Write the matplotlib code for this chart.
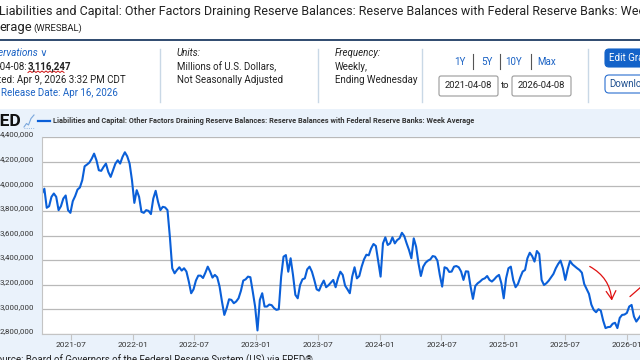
import numpy as np
import pandas as pd
import matplotlib
matplotlib.use("Agg")
import matplotlib.pyplot as plt
import matplotlib.dates as mdates
import matplotlib.ticker as ticker
from matplotlib.transforms import Affine2D, ScaledTranslation
from matplotlib.patches import Rectangle, FancyBboxPatch
from matplotlib.lines import Line2D

plt.rcParams['font.family'] = ['Roboto', 'DejaVu Sans']

# WRESBAL, weekly (Wednesday), billions of dollars
start_date = "2021-04-07"
end_date = "2026-04-08"
reserves_bn = [
    3941, 3980, 3825, 3838, 3914, 3941, 3914, 3806, 3838, 3900,
    3925, 3806, 3784, 3879, 3920, 3973, 3990, 4049, 4162, 4176,
    4192, 4224, 4265, 4211, 4130, 4125, 4157, 4184, 4116, 4076,
    4130, 4184, 4211, 4184, 4238, 4276, 4243, 4184, 4049, 3865,
    3968, 3914, 3792, 3784, 3806, 3800, 3774, 3900, 3963, 3874,
    3806, 3833, 3828, 3806, 3590, 3334, 3293, 3320, 3342, 3315,
    3334, 3307, 3226, 3131, 3163, 3234, 3274, 3274, 3255, 3298,
    3347, 3307, 3258, 3280, 3261, 3185, 3064, 2955, 3010, 3082,
    3077, 3050, 3064, 3090, 3150, 3234, 3244, 3266, 3261, 3145,
    3023, 2829, 3077, 3131, 3023, 3023, 3039, 3034, 3010, 2996,
    3001, 3266, 3428, 3441, 3306, 3415, 3280, 3118, 3090, 3198,
    3244, 3252, 3325, 3347, 3306, 3239, 3163, 3152, 3198, 3234,
    3180, 3196, 3217, 3239, 3180, 3252, 3306, 3280, 3193, 3163,
    3131, 3266, 3342, 3252, 3271, 3347, 3406, 3444, 3439, 3495,
    3531, 3515, 3388, 3266, 3536, 3585, 3523, 3536, 3585, 3536,
    3563, 3577, 3622, 3595, 3536, 3482, 3415, 3577, 3509, 3374,
    3271, 3347, 3379, 3396, 3406, 3433, 3428, 3396, 3280, 3185,
    3342, 3334, 3304, 3307, 3347, 3352, 3342, 3307, 3239, 3309,
    3307, 3185, 3085, 3190, 3212, 3226, 3244, 3252, 3271, 3239,
    3226, 3244, 3266, 3280, 3212, 3090, 3252, 3334, 3347, 3239,
    3180, 3206, 3260, 3307, 3320, 3415, 3460, 3433, 3388, 3474,
    3450, 3239, 3198, 3212, 3233, 3260, 3288, 3334, 3369, 3396,
    3334, 3239, 3325, 3393, 3366, 3350, 3334, 3320, 3298, 3206,
    3166, 3126, 3039, 2996, 2977, 3001, 2990, 2909, 2848, 2856,
    2858, 2883, 2891, 2848, 2931, 2955, 2958, 2971, 3023, 3036,
    2942, 2901, 2928, 2955,
]
dates = pd.date_range(start_date, periods=len(reserves_bn), freq="W-WED")
values = np.array(reserves_bn) * 1000  # millions of dollars

y_ticks = [2800000, 3000000, 3200000, 3400000, 3600000, 3800000, 4000000, 4200000, 4400000]
x_ticks = ["2021-07", "2022-01", "2022-07", "2023-01", "2023-07", "2024-01",
           "2024-07", "2025-01", "2025-07", "2026-01"]

title = ("Liabilities and Capital: Other Factors Draining Reserve Balances: "
         "Reserve Balances with Federal Reserve Banks: Week Average")

W, H = 640, 360
fig = plt.figure(figsize=(6.4, 3.6), dpi=100)
fig.patch.set_facecolor("white")
pix = Affine2D().scale(1 / W, -1 / H).translate(0, 1) + fig.transFigure

dark = "#222222"
link = "#1a62c4"

def txt(x, y, s, **kw):
    kw.setdefault("va", "center")
    kw.setdefault("color", dark)
    return fig.text(x, y, s, transform=pix, **kw)

# page header
txt(-1, 11, title, fontsize=9.0)
txt(-0.5, 27, "erage", fontsize=9.4)
txt(33, 28.5, "(WRESBAL)", fontsize=6.8)
fig.add_artist(Line2D([0, W], [40, 40], color="#1f3b63", lw=1.3, transform=pix))

for xs in [160, 318, 422, 588]:
    fig.add_artist(Line2D([xs, xs], [49, 102], color="#c9d8e6", lw=1, transform=pix))

# observations block
txt(-2, 53, "ervations \u2228", fontsize=7.2, color=link, style="italic")
txt(-2, 67, "-04-08:", fontsize=7)
txt(28, 67, "3,116,247", fontsize=7, weight="bold")
zx = np.arange(28, 66, 2)
zy = np.where(np.arange(len(zx)) % 2 == 0, 72.5, 71.0)
fig.add_artist(Line2D(zx, zy, color="#d01010", lw=0.7, transform=pix))
txt(-2, 80, "ted: Apr 9, 2026 3:32 PM CDT", fontsize=7)
txt(1, 93, "Release Date: Apr 16, 2026", fontsize=7, color=link)

txt(177, 53, "Units:", fontsize=7, style="italic")
txt(177, 67, "Millions of U.S. Dollars,", fontsize=7)
txt(177, 80, "Not Seasonally Adjusted", fontsize=7)

txt(335, 53, "Frequency:", fontsize=7, style="italic")
txt(335, 67, "Weekly,", fontsize=7)
txt(335, 80, "Ending Wednesday", fontsize=7)

for lab, xc in zip(["1Y", "5Y", "10Y", "Max"], [460, 487, 514, 547]):
    txt(xc, 62, lab, fontsize=7, color=link, ha="center")
for xs in [473, 500, 531]:
    fig.add_artist(Line2D([xs, xs], [54, 69], color="#555555", lw=0.8, transform=pix))
for x0, lab in [(439, "2021-04-08"), (512, "2026-04-08")]:
    fig.add_artist(FancyBboxPatch((x0, 76), 59, 20, boxstyle="round,pad=0,rounding_size=2",
                                  fc="white", ec="#9a9a9a", lw=0.8, transform=pix))
    txt(x0 + 29.5, 86, lab, fontsize=6.8, ha="center")
txt(505, 86, "to", fontsize=6.8, ha="center")

fig.add_artist(FancyBboxPatch((605, 49), 60, 18, boxstyle="round,pad=0,rounding_size=4",
                              fc="#1463c9", ec="#1463c9", lw=0.8, transform=pix))
txt(609, 58, "Edit Graph", fontsize=7, color="white")
fig.add_artist(FancyBboxPatch((605, 75), 60, 18, boxstyle="round,pad=0,rounding_size=4",
                              fc="white", ec="#2a6fd0", lw=0.8, transform=pix))
txt(609, 84, "Download", fontsize=7, color="#1e4f8f")

# chart container
fig.add_artist(Rectangle((0, 109), W, 260, fc="#eaf2fb", ec="none", transform=pix, zorder=0))
txt(22, 121, "FRED", fontsize=12.5, weight="bold", ha="right", color="#111111")
fig.add_artist(Line2D([24, 26.5, 28.5, 31, 34], [127, 123.5, 125, 118.5, 115],
                      color="#7aa7dc", lw=0.8, transform=pix))
fig.add_artist(Line2D([24, 34], [128, 128], color="#7aa7dc", lw=0.6, ls=":", transform=pix))
fig.add_artist(Line2D([38, 50], [121, 121], color="#0a5fd8", lw=1.6, transform=pix))
txt(53, 121, title, fontsize=5.3, weight="bold", color="#333333")
txt(-9, 360, "Source: Board of Governors of the Federal Reserve System (US) via FRED\u00ae",
    fontsize=7, color=dark)

# plot area
x_left = pd.Timestamp(start_date)
x_right = pd.Timestamp(end_date)
ax = fig.add_axes([42 / W, (H - 334) / H, 618 / W, 197 / H])
ax.set_facecolor("white")
ax.plot(dates, values, color="#0a5fd8", lw=1.5, solid_joinstyle="round")
ax.set_xlim(x_left, x_right)
ax.set_ylim(y_ticks[0], y_ticks[-1])
ax.set_yticks(y_ticks)
ax.yaxis.set_major_formatter(ticker.FuncFormatter(lambda v, p: f"{v:,.0f}"))
ax.set_xticks([pd.Timestamp(t + "-01") for t in x_ticks])
ax.xaxis.set_major_formatter(mdates.DateFormatter("%Y-%m"))
ax.grid(axis="y", color="#b9b9b9", lw=0.9)
ax.set_axisbelow(True)
for s in ["top", "right"]:
    ax.spines[s].set_visible(False)
ax.spines["left"].set_color("#c4c4c4")
ax.spines["bottom"].set_color("#c4c4c4")
ax.tick_params(axis="y", length=0, pad=5.5, labelsize=5.7, labelcolor="#333333")
ax.tick_params(axis="x", length=4, color="#c4c4c4", pad=2, labelsize=6, labelcolor="#333333")
shift_up = ScaledTranslation(0, 0.03, fig.dpi_scale_trans)
for lab in ax.get_yticklabels():
    lab.set_transform(lab.get_transform() + shift_up)

# hand-drawn red arrows
ax.annotate("", xy=(pd.Timestamp("2025-11-17"), 3049000),
            xytext=(pd.Timestamp("2025-09-05"), 3359000),
            arrowprops=dict(arrowstyle="->,head_length=0.6,head_width=0.35", color="#e01010",
                            lw=0.9, connectionstyle="arc3,rad=-0.3"))
ax.annotate("", xy=(pd.Timestamp("2026-04-01"), 3300000),
            xytext=(pd.Timestamp("2026-01-03"), 3089000),
            arrowprops=dict(arrowstyle="-", color="#e01010", lw=0.9))

fig.savefig("out.png", dpi=100)
